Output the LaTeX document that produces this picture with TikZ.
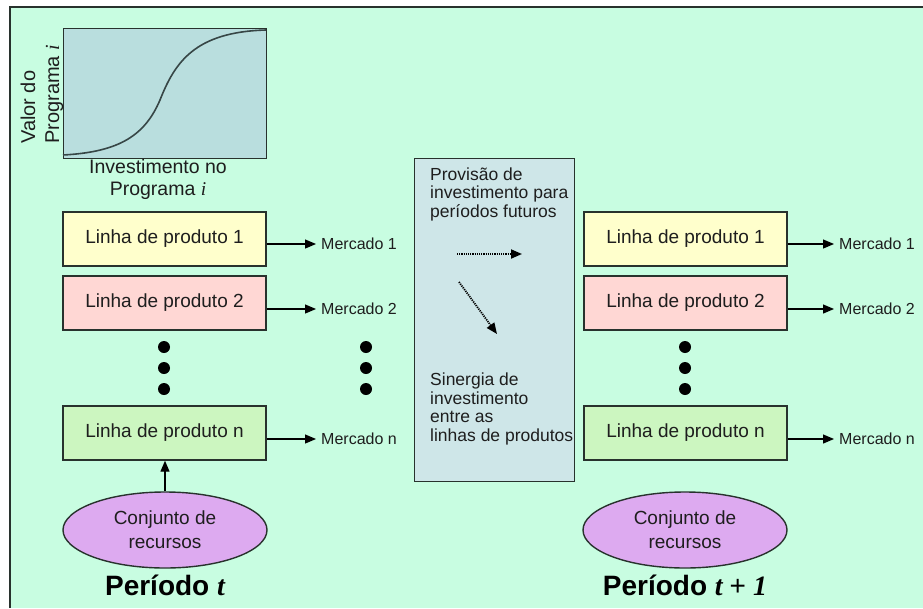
\documentclass[tikz,border=0pt]{standalone}
\usepackage{fontspec}
\setmainfont{Liberation Sans}
\newfontfamily\serifit{Liberation Serif}
\usetikzlibrary{arrows.meta,shapes.geometric}
\definecolor{bg}{RGB}{200,253,225}
\definecolor{lc}{RGB}{40,50,45}
\definecolor{tc}{RGB}{30,30,30}
\definecolor{chartfill}{RGB}{185,222,222}
\definecolor{curvec}{RGB}{55,70,70}
\definecolor{midfill}{RGB}{206,230,232}
\definecolor{yel}{RGB}{255,255,204}
\definecolor{pnk}{RGB}{255,215,212}
\definecolor{grn}{RGB}{204,246,192}
\definecolor{lilac}{RGB}{221,170,240}
\begin{document}
\begin{tikzpicture}[x=1pt,y=-1pt,
  line/.style={draw=lc, line width=1.4pt},
  pbox/.style={line, minimum width=203pt, minimum height=54pt, inner sep=0pt, font=\fontsize{19}{22}\selectfont, text=tc},
  mkt/.style={anchor=west, inner sep=0pt, font=\fontsize{16}{18}\selectfont, text=tc},
  dotn/.style={circle, fill=black, minimum size=12pt, inner sep=0pt},
  arr/.style={draw=black, line width=1.2pt, -{Triangle[length=11pt,width=9pt]}},
  darr/.style={draw=black, line width=1.8pt, dash pattern=on 1.2pt off 1pt, -{Triangle[length=11pt,width=9pt]}},
  res/.style={ellipse, line, fill=lilac, minimum width=204pt, minimum height=76pt, inner sep=0pt, align=center, font=\fontsize{19}{24}\selectfont, text=tc},
  per/.style={inner sep=0pt, font=\fontsize{28}{32}\selectfont\bfseries, text=black},
  lbl/.style={inner sep=0pt, text=tc}
]
\useasboundingbox (0,0) rectangle (923,608);
\fill[white] (0,0) rectangle (923,608);
\fill[bg] (10,7) rectangle (923,608);
\draw[lc, line width=2pt] (10,608) -- (10,7) -- (923,7);

% chart
\node[line, fill=chartfill, minimum width=203pt, minimum height=130pt, inner sep=0pt, anchor=north west] (chart) at (63,28) {};
\draw[line width=1.6pt, draw=curvec] (63,155) .. controls (120,152) and (145,135) .. (160,100)
  .. controls (175,62) and (195,32) .. (266,30);
\node[lbl, rotate=90, anchor=west, align=left, font=\fontsize{20}{24}\selectfont] (ylab) at (42,144) {Valor do\\Programa {\serifit\itshape i}};
\node[lbl, align=center, font=\fontsize{19.5}{22}\selectfont] (xlab) at (158,179) {Investimento no\\Programa {\serifit\itshape i}};

% left product lines
\node[pbox, fill=yel] (l1) at (164.5,239) {Linha de produto 1};
\node[pbox, fill=pnk] (l2) at (164.5,303) {Linha de produto 2};
\node[pbox, fill=grn] (ln) at (164.5,433) {Linha de produto n};
\node[dotn] (ld1) at (164,347) {};
\node[dotn] (ld2) at (164,368) {};
\node[dotn] (ld3) at (164,389) {};

\node[mkt] (lm1) at (321,244) {Mercado 1};
\node[mkt] (lm2) at (321,309) {Mercado 2};
\node[mkt] (lmn) at (321,439) {Mercado n};
\draw[arr] (l1.east |- lm1.west) -- ([xshift=-5pt]lm1.west);
\draw[arr] (l2.east |- lm2.west) -- ([xshift=-5pt]lm2.west);
\draw[arr] (ln.east |- lmn.west) -- ([xshift=-5pt]lmn.west);
\node[dotn] (md1) at (366,347) {};
\node[dotn] (md2) at (366,368) {};
\node[dotn] (md3) at (366,389) {};

% centre box
\node[line, fill=midfill, minimum width=160pt, minimum height=323pt, anchor=north west, inner sep=0pt] (mid) at (414,158) {};
\node[lbl, anchor=west, align=left, font=\fontsize{17.5}{18.5}\selectfont] (prov) at (430,194) {Provisão de\\investimento para\\períodos futuros};
\node[lbl, anchor=west, align=left, font=\fontsize{17.5}{18.8}\selectfont] (sin) at (430,409) {Sinergia de\\investimento\\entre as\\linhas de produtos};
\coordinate (h1) at (457,254);
\coordinate (h2) at (522,254);
\coordinate (d1) at (459,282);
\coordinate (d2) at (497,334);
\draw[darr] (h1) -- (h2);
\draw[darr] (d1) -- (d2);

% right product lines
\node[pbox, fill=yel] (r1) at (685.5,239) {Linha de produto 1};
\node[pbox, fill=pnk] (r2) at (685.5,303) {Linha de produto 2};
\node[pbox, fill=grn] (rn) at (685.5,433) {Linha de produto n};
\node[dotn] (rd1) at (685,347) {};
\node[dotn] (rd2) at (685,368) {};
\node[dotn] (rd3) at (685,389) {};
\node[mkt] (rm1) at (839,244) {Mercado 1};
\node[mkt] (rm2) at (839,309) {Mercado 2};
\node[mkt] (rmn) at (839,439) {Mercado n};
\draw[arr] (r1.east |- rm1.west) -- ([xshift=-5pt]rm1.west);
\draw[arr] (r2.east |- rm2.west) -- ([xshift=-5pt]rm2.west);
\draw[arr] (rn.east |- rmn.west) -- ([xshift=-5pt]rmn.west);

% resources
\node[res] (le) at (165,530) {Conjunto de\\recursos};
\node[res] (re) at (685,530) {Conjunto de\\recursos};
\draw[arr] (le.north) -- (le.north |- ln.south);

\node[per] (pl) at (165,585) {Período {\serifit\bfseries\itshape t}};
\node[per] (pr) at (685,585) {Período {\serifit\bfseries\itshape t}\kern7pt{\mdseries +}\kern7pt{\serifit\bfseries\itshape 1}};
\end{tikzpicture}
\end{document}
